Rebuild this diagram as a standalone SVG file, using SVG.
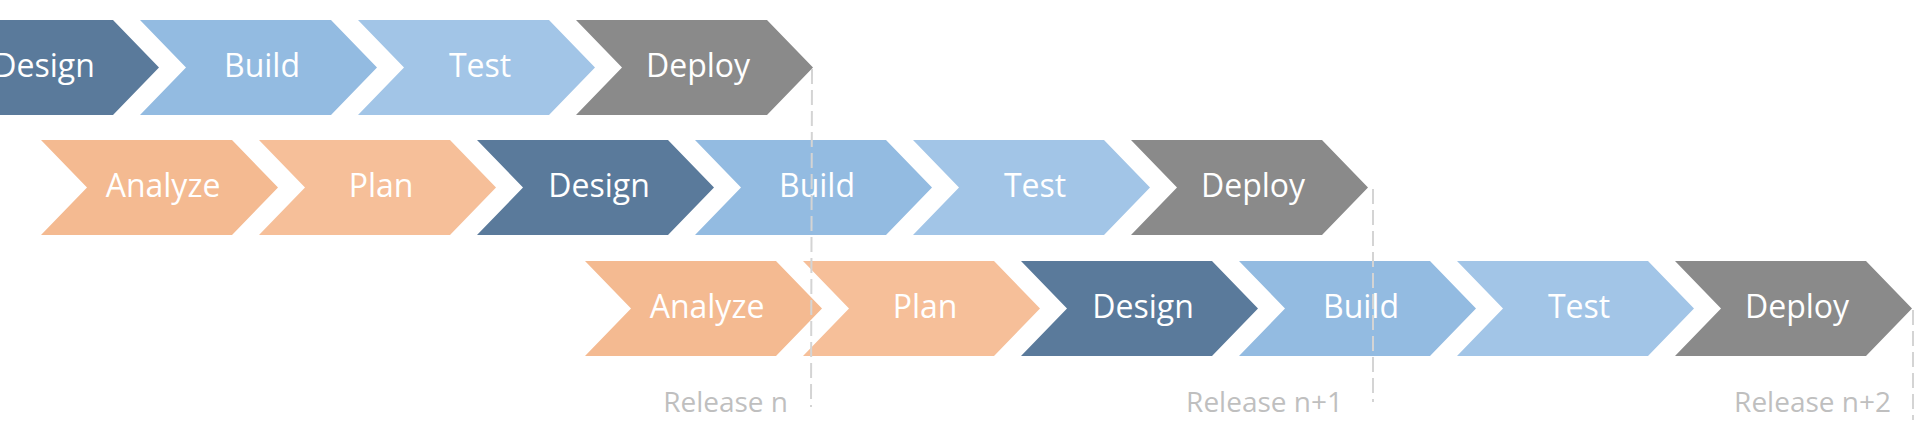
<svg xmlns="http://www.w3.org/2000/svg" width="1915" height="442" viewBox="0 0 1915 442">
<style>
.lbl{font-family:"Open Sans","Liberation Sans",sans-serif;font-size:32px;fill:#ffffff;text-anchor:middle}
.rel{font-family:"Open Sans","Liberation Sans",sans-serif;font-size:28px;fill:#bfbfbf;text-anchor:end}
.design{fill:#5a7a9b}
.build{fill:#93bbe1}
.test{fill:#a2c5e7}
.deploy{fill:#8a8a8a}
.analyze{fill:#f4ba91}
.plan{fill:#f6bf99}
.dash{stroke:#d4d4d4;stroke-width:2;stroke-dasharray:15 6;fill:none}
</style>
<defs>
<polygon id="chev" points="0,0 191,0 237,47.5 191,95 0,95 46,47.5"/>
<linearGradient id="fade" gradientUnits="userSpaceOnUse" x1="0" y1="0" x2="42" y2="0">
<stop offset="0" stop-color="#ffffff"/>
<stop offset="1" stop-color="#5a7a9b"/>
</linearGradient>
</defs>
<g id="r1-design"><use href="#chev" x="-78" y="20" fill="url(#fade)"/><text class="lbl" x="44" y="77">Design</text></g>
<g id="r1-build"><use href="#chev" x="140" y="20" class="build"/><text class="lbl" x="262" y="77">Build</text></g>
<g id="r1-test"><use href="#chev" x="358" y="20" class="test"/><text class="lbl" x="480" y="77">Test</text></g>
<g id="r1-deploy"><use href="#chev" x="576" y="20" class="deploy"/><text class="lbl" x="698" y="77">Deploy</text></g>
<g id="r2-analyze"><use href="#chev" x="41" y="140" class="analyze"/><text class="lbl" x="163" y="197">Analyze</text></g>
<g id="r2-plan"><use href="#chev" x="259" y="140" class="plan"/><text class="lbl" x="381" y="197">Plan</text></g>
<g id="r2-design"><use href="#chev" x="477" y="140" class="design"/><text class="lbl" x="599" y="197">Design</text></g>
<g id="r2-build"><use href="#chev" x="695" y="140" class="build"/><text class="lbl" x="817" y="197">Build</text></g>
<g id="r2-test"><use href="#chev" x="913" y="140" class="test"/><text class="lbl" x="1035" y="197">Test</text></g>
<g id="r2-deploy"><use href="#chev" x="1131" y="140" class="deploy"/><text class="lbl" x="1253" y="197">Deploy</text></g>
<g id="r3-analyze"><use href="#chev" x="585" y="261" class="analyze"/><text class="lbl" x="707" y="318">Analyze</text></g>
<g id="r3-plan"><use href="#chev" x="803" y="261" class="plan"/><text class="lbl" x="925" y="318">Plan</text></g>
<g id="r3-design"><use href="#chev" x="1021" y="261" class="design"/><text class="lbl" x="1143" y="318">Design</text></g>
<g id="r3-build"><use href="#chev" x="1239" y="261" class="build"/><text class="lbl" x="1361" y="318">Build</text></g>
<g id="r3-test"><use href="#chev" x="1457" y="261" class="test"/><text class="lbl" x="1579" y="318">Test</text></g>
<g id="r3-deploy"><use href="#chev" x="1675" y="261" class="deploy"/><text class="lbl" x="1797" y="318">Deploy</text></g>
<g id="connectors">
<line class="dash" x1="812" y1="69" x2="811" y2="407"/>
<line class="dash" x1="1373" y1="189" x2="1373" y2="402"/>
<line class="dash" x1="1913" y1="310" x2="1913" y2="420"/>
</g>
<g id="releases">
<text class="rel" x="788" y="412">Release n</text>
<text class="rel" x="1343" y="412">Release n+1</text>
<text class="rel" x="1891" y="412">Release n+2</text>
</g>
</svg>
